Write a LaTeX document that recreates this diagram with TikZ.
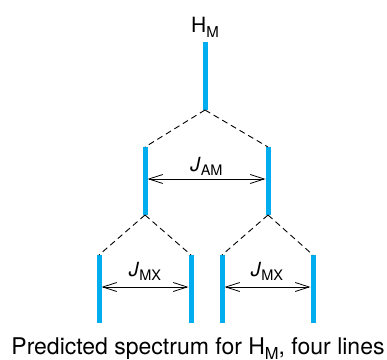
\documentclass[tikz,border=0pt]{standalone}
\usepackage{fontspec}
\setmainfont{TeX Gyre Heros}
\usetikzlibrary{arrows.meta}
\definecolor{linecyan}{RGB}{0,174,239}
\newcommand\subtxt[2]{\raisebox{-0.22em}{\fontsize{#1}{#1}\selectfont #2}}
\begin{document}
\begin{tikzpicture}[x=1pt,y=1pt,
  peak/.style={draw=linecyan,line width=5pt,line cap=butt},
  split/.style={draw=black,line width=0.9pt,dash pattern=on 6pt off 4pt},
  coupling/.style={draw=black,line width=0.8pt,{Straight Barb[length=14pt,width=9pt]}-{Straight Barb[length=14pt,width=9pt]}},
  lab/.style={inner sep=0pt,anchor=base,font=\fontsize{19.5}{22}\selectfont}]
\useasboundingbox (0,0) rectangle (387,359);
% coordinates
\coordinate (t1) at (205,317); \coordinate (b1) at (205,249);
\coordinate (t2a) at (145,212); \coordinate (b2a) at (145,144);
\coordinate (t2b) at (268,212); \coordinate (b2b) at (268,144);
\coordinate (t3a) at (99,104); \coordinate (b3a) at (99,36);
\coordinate (t3b) at (191,104); \coordinate (b3b) at (191,36);
\coordinate (t3c) at (222,104); \coordinate (b3c) at (222,36);
\coordinate (t3d) at (313,104); \coordinate (b3d) at (313,36);
% peaks
\draw[peak] (t1) -- (b1);
\draw[peak] (t2a) -- (b2a);
\draw[peak] (t2b) -- (b2b);
\draw[peak] (t3a) -- (b3a);
\draw[peak] (t3b) -- (b3b);
\draw[peak] (t3c) -- (b3c);
\draw[peak] (t3d) -- (b3d);
% splitting
\draw[split] (b1) -- (t2a);
\draw[split] (b1) -- (t2b);
\draw[split] (b2a) -- (t3a);
\draw[split] (b2a) -- (t3b);
\draw[split] (b2b) -- (t3c);
\draw[split] (b2b) -- (t3d);
% coupling arrows
\coordinate (am1) at (147.5,180); \coordinate (am2) at (265.5,180);
\coordinate (mx1) at (101.5,72); \coordinate (mx2) at (188.5,72);
\coordinate (mx3) at (224.5,72); \coordinate (mx4) at (310.5,72);
\draw[coupling] (am1) -- (am2);
\draw[coupling] (mx1) -- (mx2);
\draw[coupling] (mx3) -- (mx4);
% labels
\node[lab,font=\fontsize{21}{24}\selectfont] (hm) at (205,326) {H\subtxt{15}{M}};
\node[lab] (jam) at (206.5,188) {\textit{J}\subtxt{14.5}{AM}};
\node[lab] (jmx1) at (145,83) {\textit{J}\subtxt{14.5}{MX}};
\node[lab] (jmx2) at (267,83) {\textit{J}\subtxt{14.5}{MX}};
\node[lab,font=\fontsize{23}{26}\selectfont] (cap) at (198,4.5) {Predicted spectrum for H\subtxt{16.5}{M}, four lines};
\end{tikzpicture}
\end{document}
